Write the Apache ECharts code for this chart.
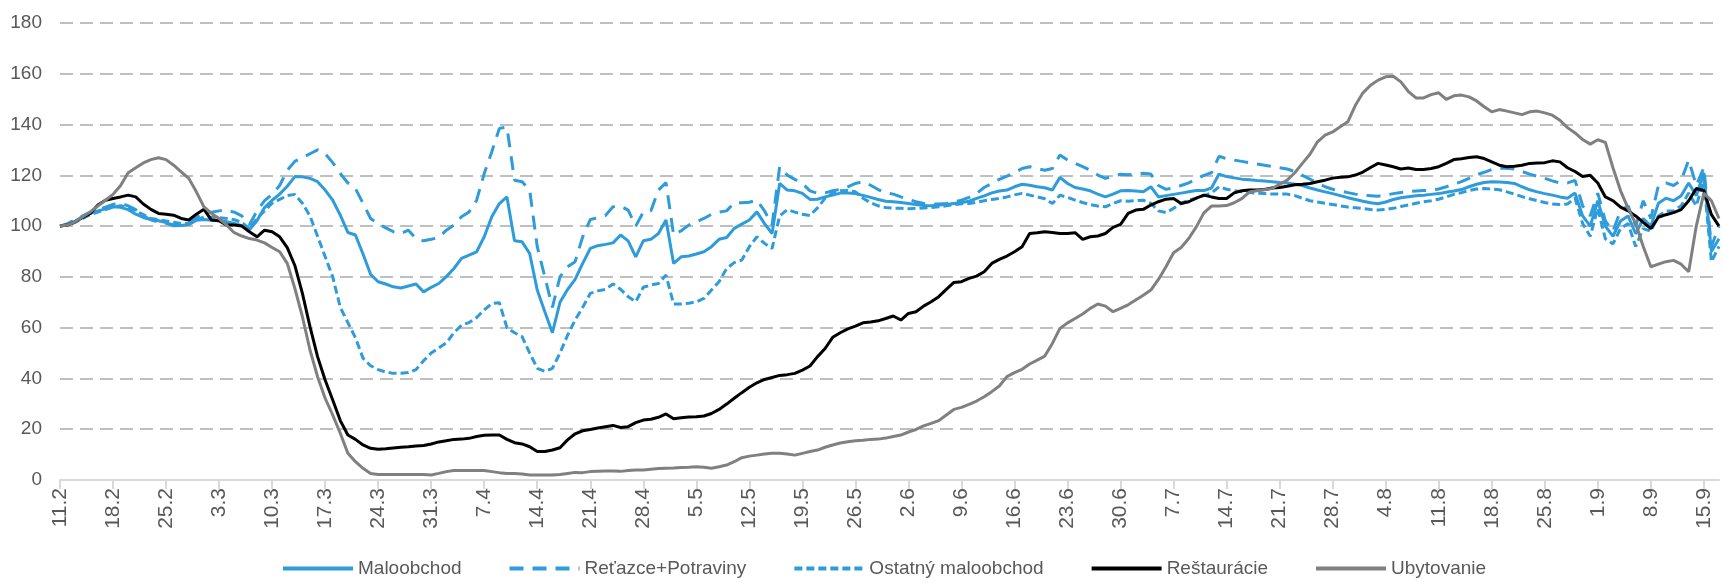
<!DOCTYPE html>
<html>
<head>
    <meta charset="UTF-8">
    <script src="https://cdn.jsdelivr.net/npm/echarts@6/dist/echarts.min.js"></script>
    <style>
        body { margin: 0; background: #fff; }
        #main { width: 1723px; height: 583px; }
    </style>
</head>
<body>
<div id="main"></div>

<script type="text/javascript">
    // denne indexy, 11.2. - 17.9. (220 dni)
    var startDay = '2020-02-11';
    var seriesNames = ['Maloobchod', 'Reťazce+Potraviny', 'Ostatný maloobchod', 'Reštaurácie', 'Ubytovanie'];
    var yTicks = [0, 20, 40, 60, 80, 100, 120, 140, 160, 180];

    var maloobchod = [100, 100.7, 101.9, 103.9, 105, 106, 106.8, 107.6, 107.4, 106.5,
        104.7, 103.4, 102.6, 102.1, 101.4, 100.1, 100.2, 100.6, 102.3, 102.6,
        102.3, 102.1, 101.7, 101, 100.2, 98.6, 102.1, 107.3, 110.2, 112.6,
        115.7, 119.5, 119.4, 118.8, 117.5, 114.2, 110.2, 104.3, 97.5, 96.5,
        89, 81, 78.1, 77.2, 76.1, 75.6, 76.4, 77.2, 74.1, 75.9,
        77.4, 80.1, 83.3, 87.3, 88.6, 89.9, 95.8, 103.7, 108.9, 111.5,
        94.2, 93.8, 89.2, 74.8, 66.3, 58, 70, 75, 79, 85.3,
        91.2, 92.3, 92.8, 93.4, 96.5, 94.2, 87.9, 94.2, 94.8, 97.1,
        102.4, 85.3, 87.9, 88.2, 89, 89.9, 91.9, 94.8, 95.5, 99.1,
        100.8, 102.4, 105.6, 101, 97.1, 116.8, 114.2, 113.9, 112.9, 110.5,
        110.6, 111.5, 112.2, 113, 113, 112.8, 112.1, 111.3, 110.5, 109.8,
        109.6, 109.3, 108.9, 108.5, 108.1, 108, 108.3, 108.5, 108.9, 109.3,
        109.8, 110.9, 111.9, 113.1, 113.8, 114.2, 115.5, 116.5, 116.1, 115.5,
        115.1, 114.2, 119.2, 116.8, 115.2, 114.6, 113.9, 112.6, 111.5, 112.6,
        113.9, 114, 113.8, 113.5, 115.5, 111.5, 112, 112.5, 113, 113.5,
        114, 114, 115, 120.5, 119.5, 119, 118.5, 118.3, 118, 117.8,
        117.5, 117.2, 117, 116.5, 116, 115, 114.2, 113.5, 112.8, 112,
        111.2, 110.5, 109.8, 109.2, 108.8, 109.5, 110.5, 111.2, 111.6, 112,
        112.2, 112.5, 112.8, 113.3, 113.8, 114.4, 115.5, 116.5, 117.2, 117.5,
        117.4, 117.2, 116.8, 115.5, 114.3, 113.5, 112.8, 112.2, 111.5, 111,
        113, 104, 100, 110, 100, 96, 102, 104, 97, 103,
        100, 109, 111, 110, 112, 117, 112, 121, 90, 95];

    var retazce = [100, 101, 102.5, 104, 105.5, 106.5, 107.5, 108.5, 109, 108,
        106.5, 104, 102.5, 101.5, 101, 100.5, 100.5, 101, 103.5, 105,
        105.5, 106, 106.3, 105.5, 104, 100.5, 106, 110, 112.5, 116,
        122, 125.5, 127, 128.5, 130, 128.5, 125, 120.7, 117, 114.8,
        109, 103, 101, 99.3, 97.8, 97.1, 98.4, 95.1, 94.2, 94.8,
        95.5, 98.4, 100.4, 103.7, 105.6, 110.2, 120.7, 129.3, 138.5, 139,
        118.1, 117.5, 114.2, 91.9, 80, 68, 80, 84, 86, 95.8,
        102.6, 103.3, 104.2, 107.6, 107.9, 106.3, 100, 105.5, 106, 114.2,
        117.1, 96.5, 98.2, 100.4, 101.7, 103, 104.7, 105.5, 106, 109.2,
        109.2, 109.4, 110.2, 106, 100.4, 123.4, 120.1, 118.4, 116.8, 113.9,
        112.9, 113.1, 113.9, 114.5, 115.5, 116.8, 117.5, 116.1, 114.4, 113.1,
        112.6, 111.5, 110.5, 109.6, 108.9, 108.7, 108.7, 108.9, 109.6, 110.2,
        111.3, 112.9, 115.2, 116.8, 118.4, 119.7, 121, 122.7, 123.4, 122.7,
        122, 122.7, 128, 126, 124.7, 123.4, 122, 120.1, 118.8, 119.7,
        120.4, 120.2, 120.5, 120.8, 120.5, 116, 114.5, 115, 116, 117,
        118.5, 120, 121, 127.5, 126.5, 126, 125.5, 125, 124.5, 124,
        123.5, 123, 122.5, 121.5, 120, 118.5, 117, 115.5, 114.5, 113.8,
        113.2, 112.6, 112.2, 112, 111.8, 112.2, 112.8, 113.2, 113.6, 113.8,
        114, 114.2, 114.6, 115.5, 116.5, 117.5, 118.8, 120.2, 121.2, 122.3,
        122.8, 122.8, 122.5, 121.5, 120.5, 119.6, 118.8, 117.8, 117, 117,
        118, 108, 104, 113, 102, 98, 106, 108, 100, 110,
        103, 116, 117, 116, 118, 126, 116, 123, 92, 100];

    var ostatny = [100, 100.5, 101.5, 103, 104.5, 105.5, 106.5, 107.5, 108, 107.5,
        106, 104.5, 103, 102.5, 102, 101.5, 101, 101, 102.5, 103.5,
        103.5, 103.3, 103, 102.5, 101.5, 99, 103, 106, 109, 110.5,
        112, 112.5, 109, 104, 96, 88, 80, 68, 62, 56,
        48, 45, 43.5, 42.5, 42, 42, 42.3, 43.5, 47, 50,
        52, 54, 58, 61, 62, 64, 67, 69.5, 69.8, 60,
        58, 56.5, 50, 44, 42.8, 44, 50, 57, 63, 68,
        73.5, 74.5, 75.1, 77.2, 75.1, 72.2, 70.2, 75.9, 76.8, 77.4,
        80.7, 69.3, 69.3, 69.6, 70.2, 71.5, 74.8, 78.1, 83.3, 85.6,
        86.6, 91.9, 95.8, 93.2, 91.2, 104, 106.5, 105.5, 104.7, 104.2,
        107.2, 111, 113, 113.9, 114, 113.5, 111, 109.2, 108, 107.3,
        107.1, 107, 106.8, 107, 107.1, 107.3, 107.6, 108, 108.4, 108.8,
        108.9, 109.4, 110, 110.5, 110.9, 111.5, 112.3, 112.9, 112.2, 111.5,
        110.8, 108.9, 112.2, 111.3, 110.2, 109.3, 108.5, 107.9, 107.6, 108.9,
        110, 109.8, 110, 110.2, 109, 106, 105.3, 107, 109, 110.2,
        111, 112, 113, 115.5, 114.5, 114, 113.5, 113.2, 113, 112.8,
        112.6, 112.6, 112.6, 112, 111, 110, 109.5, 109, 108.5, 108,
        107.5, 107.2, 106.9, 106.5, 106.3, 106.6, 107, 107.7, 108.3, 109,
        109.6, 110, 110.6, 111.5, 112.5, 113.2, 114, 114.6, 114.8, 114.6,
        114.3, 113.5, 112.6, 111.6, 110.8, 110, 109.3, 108.7, 108.5, 108.7,
        111, 101, 96, 107, 95, 93, 99, 101, 92, 99,
        98, 104, 106, 106, 108, 113, 108, 118, 86, 92];

    var restauracie = [100, 100.4, 101.7, 103.4, 105, 108.3, 110.2, 110.9, 111.5, 112.2,
        111.5, 108.7, 106.6, 105, 104.7, 104.3, 103, 102.4, 104.7, 106.6,
        102.4, 102.1, 100.4, 100.4, 100, 97.8, 95.8, 98.4, 97.8, 95.8,
        91.5, 84.5, 73.5, 60.4, 48.6, 39.4, 31.5, 23.4, 17.7, 16,
        13.8, 12.5, 12.1, 12.3, 12.6, 12.9, 13.1, 13.4, 13.6, 14.2,
        15, 15.5, 16, 16.1, 16.4, 17.1, 17.6, 17.7, 17.7, 16,
        14.7, 14.2, 13.1, 11.2, 11.2, 11.8, 12.7, 15.8, 18.2, 19.4,
        19.9, 20.5, 21, 21.5, 20.7, 21, 22.6, 23.6, 23.9, 24.7,
        26, 24.1, 24.5, 24.8, 24.9, 25.2, 26.2, 27.8, 29.9, 32.2,
        34.4, 36.5, 38.3, 39.6, 40.4, 41.2, 41.5, 42, 43.3, 44.9,
        48.6, 51.8, 56.2, 58, 59.5, 60.6, 61.9, 62.2, 62.7, 63.6,
        64.6, 63, 65.6, 66.3, 68.5, 70.2, 72.2, 75.1, 77.8, 78.1,
        79.4, 80.3, 82, 85.3, 86.9, 88.2, 89.9, 91.9, 97.1, 97.4,
        97.8, 97.5, 97.1, 97.1, 97.4, 94.8, 95.8, 96.1, 97.1, 99.5,
        100.7, 105, 106.3, 106.6, 108.3, 109.6, 110.6, 110.9, 108.9, 109.6,
        111, 112.2, 111.5, 110.9, 110.9, 113.1, 113.9, 114.2, 114.2, 114.4,
        115, 115.2, 115.7, 116.3, 116.5, 116.8, 117.5, 118.1, 118.9, 119.2,
        119.4, 120.1, 121.3, 123.1, 124.7, 124.1, 123.4, 122.5, 122.9, 122.3,
        122.3, 122.7, 123.4, 124.7, 126.2, 126.5, 127, 127.3, 126.6, 125.3,
        124, 123.4, 123.6, 124, 124.7, 124.9, 125, 125.7, 125.3, 123,
        121.5, 119.5, 120, 117, 111.5, 110, 107.5, 106, 104, 101.5,
        99, 103.5, 104.5, 105.3, 106.5, 110, 114.8, 114, 104.5, 100];

    var ubytovanie = [100, 100.4, 101.7, 103.7, 105.6, 107.9, 110.2, 112.5, 116, 121,
        123, 124.9, 126.2, 126.9, 126.2, 124, 121.4, 118.8, 113.5, 107.6,
        105, 103, 100.4, 97.4, 96.1, 95.1, 94.5, 93.4, 91.6, 89.9,
        85.3, 75.5, 64.3, 51.2, 40.7, 32.2, 25.6, 18.4, 10.5, 7.2,
        4.6, 2.6, 2.2, 2.2, 2.2, 2.2, 2.2, 2.2, 2.2, 2,
        2.6, 3.3, 3.7, 3.7, 3.7, 3.7, 3.7, 3.3, 2.9, 2.6,
        2.6, 2.4, 2, 2, 2, 2, 2.2, 2.6, 3, 2.9,
        3.3, 3.4, 3.5, 3.5, 3.4, 3.7, 3.9, 3.9, 4.2, 4.5,
        4.6, 4.7, 4.9, 5, 5.2, 5, 4.6, 5.2, 5.9, 7.2,
        8.8, 9.4, 9.8, 10.2, 10.5, 10.5, 10.2, 9.8, 10.5, 11.2,
        11.8, 12.9, 13.8, 14.6, 15.1, 15.5, 15.7, 16, 16.1, 16.5,
        17.1, 17.7, 18.9, 19.9, 21.3, 22.3, 23.4, 25.6, 27.8, 28.6,
        29.8, 31.1, 32.8, 34.8, 37, 40.7, 42.3, 43.6, 45.7, 47.2,
        48.8, 53.8, 59.7, 61.9, 63.6, 65.4, 67.6, 69.3, 68.5, 66.3,
        67.6, 69, 70.9, 72.8, 74.8, 79, 84, 89.5, 91.6, 95.1,
        99.7, 105.2, 107.9, 107.9, 108.1, 109.2, 110.8, 113.4, 113.9, 114.3,
        114.8, 116.5, 118.1, 121, 124.7, 128.3, 133.2, 135.8, 137.1, 139.1,
        141.1, 147.6, 152.5, 155.5, 157.5, 158.8, 159, 156.8, 153, 150.5,
        150.5, 151.8, 152.5, 149.9, 151.3, 151.6, 150.9, 149.3, 147, 145,
        145.9, 145.3, 144.6, 143.9, 145, 145.3, 144.6, 143.7, 141.7, 138.8,
        136.7, 134.1, 132.3, 134, 133, 123, 114, 107, 101, 92,
        84, 85, 86, 86.5, 85, 82, 100, 113, 110, 103];

    // kategorie d.m od startDay
    var days = [];
    var d0 = new Date(startDay + 'T00:00:00Z');
    for (var i = 0; i < maloobchod.length; i++) {
        var dt = new Date(d0.getTime() + i * 86400000);
        days.push(dt.getUTCDate() + '.' + (dt.getUTCMonth() + 1));
    }

    var font = "'Liberation Sans', Arial, sans-serif";
    var blue = '#2E9BDB';

    function lineSeries(name, data, color, dash) {
        return {
            name: name,
            type: 'line',
            data: data,
            symbol: 'none',
            lineStyle: {color: color, width: 3, type: dash || 'solid'},
            itemStyle: {color: color}
        };
    }

    var myChart = echarts.init(document.getElementById('main'));
    var option = {
        animation: false,
        backgroundColor: '#fff',
        grid: {left: 60, right: 4, top: 23, bottom: 103},
        legend: {
            data: seriesNames,
            bottom: 0,
            left: 276,
            itemWidth: 70,
            itemHeight: 14,
            itemGap: 46,
            itemStyle: {color: 'rgba(0,0,0,0)', borderWidth: 0},
            lineStyle: {width: 4},
            textStyle: {fontSize: 19, color: '#595959', fontFamily: font}
        },
        xAxis: {
            type: 'category',
            data: days,
            boundaryGap: false,
            axisLine: {lineStyle: {color: '#D9D9D9', width: 2}},
            axisTick: {interval: 6, length: 9, lineStyle: {color: '#D9D9D9', width: 2}},
            axisLabel: {interval: 6, rotate: 90, margin: 8, fontSize: 21, color: '#595959', fontFamily: font},
            splitLine: {show: false}
        },
        yAxis: {
            type: 'value',
            min: yTicks[0],
            max: yTicks[yTicks.length - 1],
            interval: 20,
            axisLine: {show: false},
            axisTick: {show: false},
            axisLabel: {margin: 18, fontSize: 19, color: '#595959', fontFamily: font},
            splitLine: {lineStyle: {color: '#BFBFBF', width: 2, type: [13, 7]}}
        },
        series: [
            lineSeries(seriesNames[0], maloobchod, blue),
            lineSeries(seriesNames[1], retazce, blue, [14, 9]),
            lineSeries(seriesNames[2], ostatny, blue, [8, 4]),
            lineSeries(seriesNames[3], restauracie, '#000000'),
            lineSeries(seriesNames[4], ubytovanie, '#808080')
        ]
    };
    myChart.setOption(option);
</script>
</body>
</html>
